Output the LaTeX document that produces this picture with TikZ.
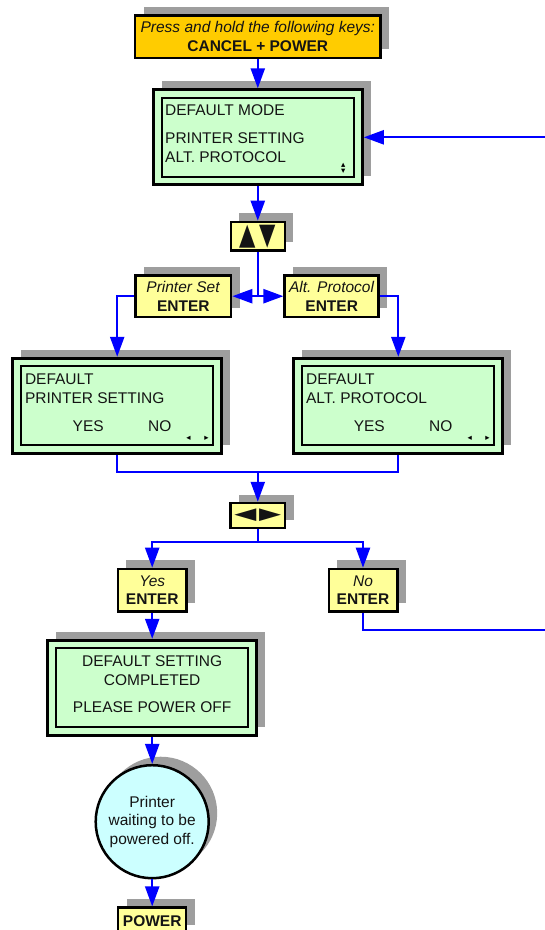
\documentclass[tikz,border=0pt]{standalone}
\usepackage{fontspec}
\setmainfont{Liberation Sans}
\newfontfamily\pmsymbols{DejaVu Sans}
\usetikzlibrary{arrows.meta,shadows}
\definecolor{pmink}{HTML}{141414}
\definecolor{pmblue}{HTML}{0000FF}
\definecolor{pmlcd}{HTML}{CCFFCC}
\definecolor{pmkey}{HTML}{FFFF99}
\definecolor{pmstart}{HTML}{FFCC00}
\definecolor{pmstate}{HTML}{CCFFFF}
\definecolor{pmshadow}{HTML}{9E9E9E}
\tikzset{
  pm text/.style={font=\fontsize{15.5}{18.7}\selectfont, text=pmink},
  pm shadow/.style={drop shadow={shadow xshift=8.5pt, shadow yshift=8.5pt,
    fill=pmshadow, opacity=1}},
  pm start/.style={draw=black, line width=2.5pt, fill=pmstart, pm shadow,
    minimum width=245.5pt, minimum height=42.5pt, align=center, inner sep=1pt},
  pm key/.style={draw=black, line width=2.5pt, fill=pmkey, pm shadow,
    align=center, inner sep=1pt},
  pm lcd/.style={draw=black, line width=3pt, fill=pmlcd, pm shadow,
    minimum width=209pt, minimum height=95pt},
  pm lcd inner/.style={draw=black, line width=2.2pt,
    minimum width=192pt, minimum height=79pt},
  pm lcd text/.style={anchor=west, align=left, inner sep=0pt},
  pm icon/.style={font=\pmsymbols\fontsize{8.5}{6}\selectfont, text=black,
    inner sep=0pt},
  pm state/.style={circle, draw=black, line width=2.5pt, fill=pmstate, pm shadow,
    minimum size=113pt, align=center, inner sep=0pt},
  pm link/.style={draw=pmblue, line width=2.3pt},
  pm arrow/.style={pm link, -{Triangle[length=20pt,width=14pt]}}
}
\begin{document}
\begin{tikzpicture}[pm text, x=1pt, y=-1pt]
  \clip (0,0) rectangle (545,930);
  % entry keys
  \node[pm start] (keys) at (257.8,36.5)
    {\textit{Press and hold the following keys:}\\\textbf{CANCEL + POWER}};
  % main display
  \node[pm lcd] (mode) at (257.8,137.3) {};
  \node[pm lcd inner] (mode-in) at (mode.center) {};
  \node[pm lcd text] (mode-txt) at (165,133.7)
    {DEFAULT MODE\\[9.3pt]PRINTER SETTING\\ALT. PROTOCOL};
  \node[pm icon] (mode-up) at (343.3,165) {▴};
  \node[pm icon] (mode-down) at (343.3,171.8) {▾};
  \node[pm key, minimum width=54pt, minimum height=28.5pt] (updown) at (257.8,236.2)
    {\resizebox*{37pt}{23pt}{\pmsymbols ▲\hspace{0.2em}▼}};
  \node[pm key, minimum width=95.5pt, minimum height=41.5pt] (prnset) at (183.3,296.2)
    {\textit{Printer Set}\\\textbf{ENTER}};
  \node[pm key, minimum width=94pt, minimum height=41.5pt] (altset) at (331.7,296.2)
    {\textit{Alt. Protocol}\\\textbf{ENTER}};
  % confirm displays
  \foreach \n/\cx/\what in {pdef/117.2/PRINTER SETTING, adef/398.3/ALT. PROTOCOL} {
    \node[pm lcd] (\n) at (\cx,405.8) {};
    \node[pm lcd inner] (\n-in) at (\n.center) {};
    \node[pm lcd text] (\n-txt) at (\cx-92.4,388.7) {DEFAULT\\\what};
    \node (\n-yes) at (\cx-29,426) {YES};
    \node (\n-no) at (\cx+42.5,426) {NO};
    \node[pm icon] (\n-left) at (\cx+71.4,438.7) {◂};
    \node[pm icon] (\n-right) at (\cx+89.3,438.7) {▸};
  }
  \node[pm key, minimum width=54.5pt, minimum height=25pt] (lrkeys) at (257.8,515.5)
    {\resizebox*{47pt}{12.7pt}{\pmsymbols ◀\hspace{0.1em}▶}};
  \node[pm key, minimum width=68.5pt, minimum height=42.5pt] (yes) at (152.2,590.2)
    {\textit{Yes}\\\textbf{ENTER}};
  \node[pm key, minimum width=68.5pt, minimum height=42.5pt] (no) at (363,590.2)
    {\textit{No}\\\textbf{ENTER}};
  % finish
  \node[pm lcd] (done) at (152.2,687.8) {};
  \node[pm lcd inner] (done-in) at (done.center) {};
  \node[align=center, inner sep=0pt] (done-txt) at (152.2,684.2)
    {DEFAULT SETTING\\COMPLETED\\[9pt]PLEASE POWER OFF};
  \node[pm state] (wait) at (152.2,821.7) {Printer\\waiting to be\\powered off.};
  \node[pm key, minimum width=68pt, minimum height=26pt] (power) at (152.2,920.7)
    {\textbf{POWER}};
  % connectors
  \coordinate (ret1) at (545,137.3);
  \coordinate (ret2) at (545,630);
  \draw[pm arrow] (keys) -- (mode);
  \draw[pm arrow] (ret1) -- (mode.east);
  \draw[pm arrow] (mode) -- (updown);
  \draw[pm link] (updown.south) -- (updown.south |- prnset.east) coordinate (split);
  \draw[pm arrow] (split) -- (prnset.east);
  \draw[pm arrow] (split) -- (altset.west);
  \draw[pm arrow] (prnset.west) -| (pdef.north);
  \draw[pm arrow] (altset.east) -| (adef.north);
  \path (lrkeys.north) ++(0,-30) coordinate (merge);
  \draw[pm link] (pdef.south) |- (merge) -| (adef.south);
  \draw[pm arrow] (merge) -- (lrkeys.north);
  \path (lrkeys.south) ++(0,12.4) coordinate (fork);
  \draw[pm link] (lrkeys.south) -- (fork);
  \draw[pm arrow] (fork) -| (yes.north);
  \draw[pm arrow] (fork) -| (no.north);
  \draw[pm link] (no.south) |- (ret2);
  \draw[pm arrow] (yes) -- (done);
  \draw[pm arrow] (done) -- (wait);
  \draw[pm arrow] (wait) -- (power);
\end{tikzpicture}
\end{document}
